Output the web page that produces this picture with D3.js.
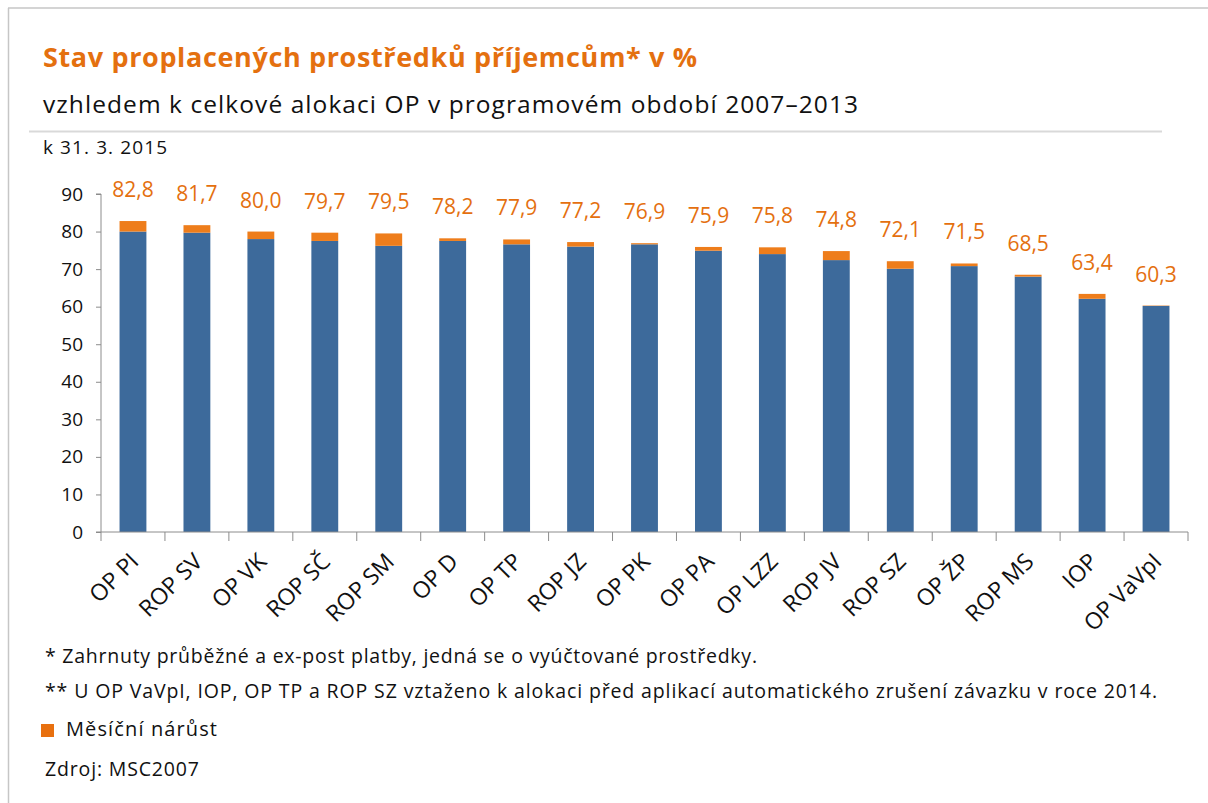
<!DOCTYPE html>
<html>
<head>
<meta charset="utf-8">
<script src="https://cdn.jsdelivr.net/npm/d3@7"></script>
<style>
  body { margin: 0; background: #fff; }
  svg { display: block; font-family: "Open Sans", "Noto Sans", sans-serif; }
</style>
</head>
<body>
<div id="chart"></div>
<script>
// Data (values in %).
var programs = ["OP PI", "ROP SV", "OP VK", "ROP SČ", "ROP SM", "OP D", "OP TP", "ROP JZ", "OP PK",
  "OP PA", "OP LZZ", "ROP JV", "ROP SZ", "OP ŽP", "ROP MS", "IOP", "OP VaVpI"];
var totals = [82.8, 81.7, 80.0, 79.7, 79.5, 78.2, 77.9, 77.2, 76.9, 75.9, 75.8, 74.8, 72.1, 71.5, 68.5, 63.4, 60.3];
// monthly increase (orange top part)
var increments = [2.8, 2.0, 2.0, 2.2, 3.3, 0.7, 1.3, 1.2, 0.3, 1.0, 1.8, 2.4, 2.0, 0.7, 0.5, 1.3, 0.1];
var yTicks = [0, 10, 20, 30, 40, 50, 60, 70, 80, 90];

var fmt = function(v) { return v.toFixed(1).replace(".", ","); };

var width = 1208, height = 803;
var orange = "#ee7d1b", blue = "#3d6a9b", titleOrange = "#e4700f";

var svg = d3.select("#chart").append("svg")
    .attr("width", width)
    .attr("height", height);

// frame lines (top and left)
svg.append("line").attr("x1", 8).attr("x2", width).attr("y1", 8).attr("y2", 8)
    .attr("stroke", "#c6c6c6").attr("stroke-width", 1.5);
svg.append("line").attr("x1", 8.5).attr("x2", 8.5).attr("y1", 8).attr("y2", height)
    .attr("stroke", "#c6c6c6").attr("stroke-width", 1.5);

// titles
svg.append("text").attr("x", 43).attr("y", 67)
    .attr("font-size", 27).attr("font-weight", "bold").attr("fill", titleOrange)
    .attr("textLength", 654)
    .text("Stav proplacených prostředků příjemcům* v %");
svg.append("text").attr("x", 43).attr("y", 113)
    .attr("font-size", 24.5).attr("fill", "#111")
    .attr("textLength", 815)
    .text("vzhledem k celkové alokaci OP v programovém období 2007–2013");
svg.append("line").attr("x1", 29).attr("x2", 1162).attr("y1", 131.5).attr("y2", 131.5)
    .attr("stroke", "#d9d9d9").attr("stroke-width", 2);
svg.append("text").attr("x", 43).attr("y", 154)
    .attr("font-size", 19).attr("fill", "#111")
    .attr("textLength", 124)
    .text("k 31. 3. 2015");

// scales
var x = d3.scaleBand().domain(programs).range([101, 1188]).paddingInner(0.58).paddingOuter(0.29);
var y = d3.scaleLinear().domain([0, 90]).range([532, 194]);

var g = svg.append("g");

// blue part = total minus monthly increase
g.selectAll("rect.base")
    .data(programs)
    .enter().append("rect")
    .attr("class", "base")
    .attr("x", function(d) { return x(d); })
    .attr("width", x.bandwidth())
    .attr("y", function(d, i) { return y(totals[i] - increments[i]); })
    .attr("height", function(d, i) { return y(0) - y(totals[i] - increments[i]); })
    .attr("fill", blue);

g.selectAll("rect.inc")
    .data(programs)
    .enter().append("rect")
    .attr("class", "inc")
    .attr("x", function(d) { return x(d); })
    .attr("width", x.bandwidth())
    .attr("y", function(d, i) { return y(totals[i]); })
    .attr("height", function(d, i) { return y(totals[i] - increments[i]) - y(totals[i]); })
    .attr("fill", orange);

// value labels
g.selectAll("text.val")
    .data(programs)
    .enter().append("text")
    .attr("class", "val")
    .attr("x", function(d) { return x(d) + x.bandwidth() / 2; })
    .attr("y", function(d, i) { return y(totals[i]) - 24; })
    .attr("text-anchor", "middle")
    .attr("font-size", 21)
    .attr("fill", titleOrange)
    .text(function(d, i) { return fmt(totals[i]); });

// y axis
var yAxis = d3.axisLeft(y).tickValues(yTicks).tickSize(5).tickPadding(13);
var ya = svg.append("g").attr("transform", "translate(101,0)").call(yAxis);
ya.select(".domain").attr("stroke", "#8c8c8c").attr("d", "M-5," + y(90) + "H0V" + y(0));
ya.selectAll(".tick line").attr("stroke", "#8c8c8c");
ya.selectAll(".tick text").attr("font-size", 19).attr("fill", "#111")
    .attr("font-family", "Open Sans, sans-serif");

// x axis: baseline with ticks at band boundaries
var xa = svg.append("g");
xa.append("line").attr("x1", 96).attr("x2", 1188).attr("y1", 532).attr("y2", 532)
    .attr("stroke", "#8c8c8c");
var step = x.step();
xa.selectAll("line.tk")
    .data(d3.range(programs.length + 1))
    .enter().append("line")
    .attr("class", "tk")
    .attr("x1", function(i) { return 101 + i * step; })
    .attr("x2", function(i) { return 101 + i * step; })
    .attr("y1", 532).attr("y2", 541)
    .attr("stroke", "#8c8c8c");

xa.selectAll("text.cat")
    .data(programs)
    .enter().append("text")
    .attr("class", "cat")
    .attr("transform", function(d) {
      return "translate(" + (x(d) + x.bandwidth() / 2 + 7) + ",563) rotate(-45)";
    })
    .attr("text-anchor", "end")
    .attr("font-size", 23)
    .attr("fill", "#111")
    .text(function(d) { return d; });

// footnotes and legend
svg.append("text").attr("x", 45).attr("y", 663)
    .attr("font-size", 19.5).attr("fill", "#111")
    .attr("textLength", 712)
    .text("* Zahrnuty průběžné a ex-post platby, jedná se o vyúčtované prostředky.");
svg.append("text").attr("x", 45).attr("y", 698)
    .attr("font-size", 19.5).attr("fill", "#111")
    .attr("textLength", 1112)
    .text("** U OP VaVpI, IOP, OP TP a ROP SZ vztaženo k alokaci před aplikací automatického zrušení závazku v roce 2014.");
svg.append("rect").attr("x", 41).attr("y", 724).attr("width", 13).attr("height", 13)
    .attr("fill", "#e8700f");
svg.append("text").attr("x", 66).attr("y", 736)
    .attr("font-size", 20).attr("fill", "#111")
    .attr("textLength", 151)
    .text("Měsíční nárůst");
svg.append("text").attr("x", 45).attr("y", 776)
    .attr("font-size", 19.5).attr("fill", "#111")
    .attr("textLength", 154)
    .text("Zdroj: MSC2007");
</script>
</body>
</html>
